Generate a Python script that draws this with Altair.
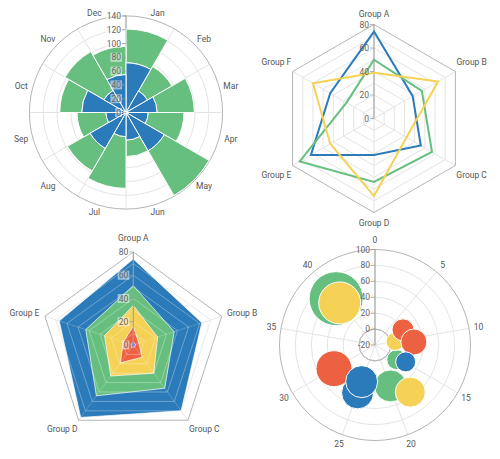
import altair as alt
import pandas as pd

# ---------------- data ----------------
months = ["Jan", "Feb", "Mar", "Apr", "May", "Jun", "Jul", "Aug", "Sep", "Oct", "Nov", "Dec"]
bar_blue = [72, 36, 45, 32, 64, 40, 35, 60, 29, 64, 37, 55]
bar_green = [49, 41, 54, 52, 75, 24, 75, 38, 42, 32, 65, 41]
bar_ticks = [0, 20, 40, 60, 80, 100, 120, 140]
bar_grid = [20, 40, 60, 80, 100, 120]

radar6_groups = ["Group A", "Group B", "Group C", "Group D", "Group E", "Group F"]
radar6_series = ["s1", "s2", "s3"]
radar6_blue = [74, 38, 46, 31, 62, 43]
radar6_green = [50, 47, 57, 54, 73, 27]
radar6_yellow = [39, 63, 32, 66, 43, 60]
radar_ticks = [0, 20, 40, 60, 80]
radar_grid = [10, 20, 30, 40, 50, 60, 70]

radar5_groups = ["Group A", "Group B", "Group C", "Group D", "Group E"]
radar5_blue = [74, 62, 70, 77, 67]
radar5_green = [51, 37, 46, 54, 43]
radar5_yellow = [34, 22, 30, 33, 26]
radar5_red = [16, 5, 13, 19, 9]
radar5_purple = [2.5, 2, 2, 2.5, 2]

bub_series = ["green", "yellow", "red", "blue"]
bub_angle = {"green": [40, 15.5, 19.9], "yellow": [40, 10, 17.9],
             "red": [7.7, 10.7, 30], "blue": [25, 25, 14.85]}
bub_value = {"green": [56, 13, 35], "yellow": [49, 5.6, 54],
             "red": [20, 29, 39.5], "blue": [44, 29, 24]}
bub_mag = {"green": [27, 10, 16], "yellow": [21, 9, 15],
           "red": [11, 13, 18], "blue": [16, 16, 10]}
angle_ticks = [0, 5, 10, 15, 20, 25, 30, 35, 40]
polar_ticks = [-20, 0, 20, 40, 60, 80, 100]
polar_grid = [0, 20, 40, 60, 80]

# ---------------- style ----------------
BLUE, GREEN, YELLOW, RED, PURPLE = "#2b7bba", "#67bf7f", "#f5d155", "#eb6142", "#6a5acd"
FONT = "Roboto"
LBL = "#555555"
AXL = "#666666"
GRID = "#e4e4e4"
OUTER = "#b4b4b4"
AXIS = "#9a9a9a"
FS = 8.5

C1, R1, U1 = (118, 104.5), 96.6, 140
C2, R2, U2 = (366, 110.5), 94, 80
C3, R3, U3 = (125.3, 337), 93, 80
C4, R4, U4 = (367, 337), 95.5, 120


def sc(U, c, R, flip=False):
    rng = [c + R, c - R] if flip else [c - R, c + R]
    return alt.Scale(domain=[-U, U], range=rng, nice=False, zero=False)


def xy(U, C, R, rule=False):
    d = dict(x=alt.X("x:Q", scale=sc(U, C[0], R), axis=None),
             y=alt.Y("y:Q", scale=sc(U, C[1], R, True), axis=None))
    if rule:
        d["x2"] = alt.X2("x2:Q")
        d["y2"] = alt.Y2("y2:Q")
    return d


layers = []


# ---- helpers ----
def circles(levels, C, rscale, color, width=1):
    df = pd.DataFrame({"lev": levels})
    return alt.Chart(df).transform_calculate(t0="0", t1="2*PI").mark_arc(
        filled=False, stroke=color, strokeWidth=width
    ).encode(
        x=alt.value(C[0]), y=alt.value(C[1]),
        theta=alt.Theta("t0:Q", scale=None, stack=None), theta2="t1:Q",
        radius=alt.Radius("lev:Q", scale=rscale, stack=None),
    )


def spokes(n, U, Uout, C, R, color, opacity=1.0):
    df = pd.DataFrame({"k": list(range(n))})
    return alt.Chart(df).transform_calculate(
        a=f"datum.k*2*PI/{n}", x="0", y="0",
        x2=f"{Uout}*sin(datum.a)", y2=f"{Uout}*cos(datum.a)"
    ).mark_rule(stroke=color, strokeWidth=1, opacity=opacity).encode(**xy(U, C, R, rule=True))


def axis_line(U, Uout, C, R, start=0):
    df = pd.DataFrame({"x": [0], "y": [start], "x2": [0], "y2": [Uout]})
    return alt.Chart(df).mark_rule(stroke=AXIS, strokeWidth=1).encode(**xy(U, C, R, rule=True))


def label_boxes(ticks, U, C, R, shift=0):
    k = U / R  # data units per pixel of this panel
    df = pd.DataFrame({"t": ticks})
    return alt.Chart(df).transform_calculate(
        w=f"length(''+datum.t)*4.8+2",
        x=f"-4*{k}", x2=f"-(4+datum.w)*{k}",
        y=f"datum.t+{shift}-4.5*{k}", y2=f"datum.t+{shift}+4.5*{k}"
    ).mark_rect(fill="white", opacity=0.5).encode(**xy(U, C, R, rule=True))


def radial_labels(ticks, U, C, R, shift=0):
    df = pd.DataFrame({"t": ticks})
    return alt.Chart(df).transform_calculate(
        x="0", y=f"datum.t+{shift}", lab="''+datum.t"
    ).mark_text(font=FONT, fontSize=FS, color=AXL, align="right", baseline="middle", dx=-5).encode(
        text="lab:N", **xy(U, C, R))


def radial_ticks(ticks, U, C, R, shift=0):
    df = pd.DataFrame({"t": ticks})
    return alt.Chart(df).transform_calculate(x="0", y=f"datum.t+{shift}").mark_tick(
        orient="horizontal", size=4, thickness=1, color=AXIS, xOffset=-2
    ).encode(**xy(U, C, R))


def poly_grid(n, levels, U, C, R, color, width=1, opacity=1.0):
    rows = [{"lev": L, "k": k} for L in levels for k in range(n)]
    return alt.Chart(pd.DataFrame(rows)).transform_calculate(
        a=f"datum.k*2*PI/{n}", x="datum.lev*sin(datum.a)", y="datum.lev*cos(datum.a)"
    ).mark_line(stroke=color, strokeWidth=width, opacity=opacity, interpolate="linear-closed").encode(
        detail="lev:N", order="k:Q", **xy(U, C, R))


def cat_labels(names, U, C, R, base, extra, half=False, side=0.0, top=0.0):
    df = pd.DataFrame({"name": names, "k": list(range(len(names)))})
    n = len(names)
    off = "+0.5" if half else ""
    return alt.Chart(df).transform_calculate(
        a=f"(datum.k{off})*2*PI/{n}", r=f"{base}+{extra}*abs(sin(datum.a))",
        x=f"datum.r*sin(datum.a)+{side}*(sin(datum.a)>0.05?1:(sin(datum.a)<-0.05?-1:0))",
        y=f"datum.r*cos(datum.a)+(cos(datum.a)>0.99?{top}:0)"
    ).mark_text(font=FONT, fontSize=FS, color=LBL, align="center", baseline="middle").encode(
        text="name:N", **xy(U, C, R))


# ================= Panel 1: polar stacked bars =================
rs1 = alt.Scale(domain=[0, U1], range=[0, R1], zero=True, nice=False)
layers.append(circles(bar_grid, C1, rs1, GRID))
layers.append(spokes(12, U1, U1, C1, R1, GRID))
layers.append(circles([140], C1, rs1, OUTER))
layers.append(axis_line(U1, U1, C1, R1))
bars = pd.DataFrame({"month": months, "i": list(range(12)), "b": bar_blue, "g": bar_green})
base1 = alt.Chart(bars).transform_calculate(
    t0="datum.i*2*PI/12", t1="(datum.i+1)*2*PI/12", tot="datum.b+datum.g")
layers.append(base1.mark_arc(fill=GREEN, stroke="white", strokeWidth=1).encode(
    x=alt.value(C1[0]), y=alt.value(C1[1]),
    theta=alt.Theta("t0:Q", scale=None, stack=None), theta2="t1:Q",
    radius=alt.Radius("tot:Q", scale=rs1, stack=None), radius2="b:Q"))
layers.append(base1.mark_arc(fill=BLUE, stroke="white", strokeWidth=1).encode(
    x=alt.value(C1[0]), y=alt.value(C1[1]),
    theta=alt.Theta("t0:Q", scale=None, stack=None), theta2="t1:Q",
    radius=alt.Radius("b:Q", scale=rs1, stack=None)))
layers.append(radial_ticks(bar_ticks, U1, C1, R1))
layers.append(label_boxes(bar_ticks, U1, C1, R1))
layers.append(radial_labels(bar_ticks, U1, C1, R1))
layers.append(cat_labels(months, U1, C1, R1, 150, 0, half=True, side=7))

# ================= Panel 2: radar lines =================
layers.append(poly_grid(6, radar_grid, U2, C2, R2, GRID))
layers.append(spokes(6, U2, U2, C2, R2, GRID))
layers.append(poly_grid(6, [80], U2, C2, R2, OUTER))
layers.append(axis_line(U2, U2, C2, R2))
rows = []
for s, vals in zip(radar6_series, [radar6_blue, radar6_green, radar6_yellow]):
    for k, v in enumerate(vals):
        rows.append({"s": s, "k": k, "v": v})
layers.append(alt.Chart(pd.DataFrame(rows)).transform_calculate(
    a="datum.k*2*PI/6", x="datum.v*sin(datum.a)", y="datum.v*cos(datum.a)"
).mark_line(strokeWidth=2, interpolate="linear-closed").encode(
    color=alt.Color("s:N", scale=alt.Scale(domain=radar6_series, range=[BLUE, GREEN, YELLOW]), legend=None),
    detail="s:N", order="k:Q", **xy(U2, C2, R2)))
layers.append(radial_ticks(radar_ticks, U2, C2, R2))
layers.append(radial_labels(radar_ticks, U2, C2, R2))
layers.append(cat_labels(radar6_groups, U2, C2, R2, 89, 8))

# ================= Panel 3: filled radar =================
layers.append(poly_grid(5, radar_grid, U3, C3, R3, GRID))
layers.append(spokes(5, U3, U3, C3, R3, GRID))
layers.append(poly_grid(5, [80], U3, C3, R3, OUTER))
for vals, col in [(radar5_blue, BLUE), (radar5_green, GREEN), (radar5_yellow, YELLOW),
                  (radar5_red, RED), (radar5_purple, PURPLE)]:
    df = pd.DataFrame({"k": list(range(5)), "v": vals})
    layers.append(alt.Chart(df).transform_calculate(
        a="datum.k*2*PI/5", x="datum.v*sin(datum.a)", y="datum.v*cos(datum.a)"
    ).mark_line(fill=col, fillOpacity=1, stroke="white", strokeWidth=1, strokeOpacity=0.7,
                interpolate="linear-closed").encode(order="k:Q", **xy(U3, C3, R3)))
layers.append(poly_grid(5, radar_grid, U3, C3, R3, "white", opacity=0.3))
layers.append(spokes(5, U3, U3, C3, R3, "white", opacity=0.2))
layers.append(axis_line(U3, U3, C3, R3))
layers.append(radial_ticks(radar_ticks, U3, C3, R3))
layers.append(label_boxes(radar_ticks, U3, C3, R3))
layers.append(radial_labels(radar_ticks, U3, C3, R3))
layers.append(cat_labels(radar5_groups, U3, C3, R3, 89.5, 0, side=8.5, top=2.5))

# ================= Panel 4: polar bubbles =================
rs4 = alt.Scale(domain=[-20, 100], range=[0, R4], zero=False, nice=False)
layers.append(circles(polar_grid, C4, rs4, GRID))
layers.append(spokes(9, U4, U4, C4, R4, GRID))
layers.append(circles([100], C4, rs4, OUTER))
layers.append(axis_line(U4, U4, C4, R4))
brows = []
for s in bub_series:
    for ang, v, m in zip(bub_angle[s], bub_value[s], bub_mag[s]):
        brows.append({"s": s, "ang": ang, "v": v, "m": m})
bdf = pd.DataFrame(brows)
bdf["ord"] = range(len(bdf))
layers.append(alt.Chart(bdf).transform_calculate(
    a="datum.ang*2*PI/45", x="(datum.v+20)*sin(datum.a)", y="(datum.v+20)*cos(datum.a)"
).mark_circle(opacity=1, stroke="white", strokeWidth=1).encode(
    color=alt.Color("s:N", scale=alt.Scale(domain=["blue", "green", "yellow", "red"],
                                           range=[BLUE, GREEN, YELLOW, RED]), legend=None),
    size=alt.Size("m:Q", scale=alt.Scale(type="pow", exponent=2, domain=[0, 30], range=[0, 3600]), legend=None),
    order="ord:Q", **xy(U4, C4, R4)))
layers.append(radial_ticks(polar_ticks, U4, C4, R4, shift=20))
layers.append(radial_labels(polar_ticks, U4, C4, R4, shift=20))
adf = pd.DataFrame({"t": angle_ticks})
layers.append(alt.Chart(adf).transform_calculate(
    a="datum.t*2*PI/45", x="132*sin(datum.a)", y="132*cos(datum.a)", lab="''+datum.t"
).mark_text(font=FONT, fontSize=FS, color=LBL, align="center", baseline="middle").encode(
    text="lab:N", **xy(U4, C4, R4)))

chart = alt.layer(*layers).resolve_scale(
    x="independent", y="independent", radius="independent", color="independent",
    size="independent", theta="independent"
).properties(width=484, height=443, padding=0, autosize="none").configure_view(stroke=None)

chart.save("out.html", embed_options={"renderer": "svg", "actions": False})
